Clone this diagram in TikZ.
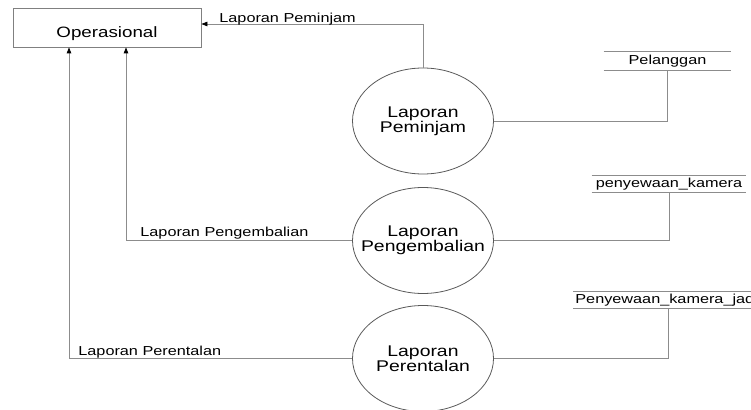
\documentclass[tikz,border=0pt]{standalone}
\usepackage{fontspec}
\setmainfont{Liberation Sans}[FakeStretch=1.25]
\usepackage{tikz}
\usetikzlibrary{
	arrows.meta,
	shapes.geometric
}
\tikzset{every path/.append style={line width=0.8pt}}
\tikzset{every path/.append style={>={Triangle[length=6pt,width=4.5pt,color=black]}}}
\tikzset{
	proc/.style={ellipse,draw=black!65,minimum width=141pt,minimum height=106pt,inner sep=-15pt,align=center,font=\fontsize{15.5}{15}\selectfont},
	entity/.style={rectangle,draw=black!50,minimum width=188pt,minimum height=39pt,inner sep=0pt,font=\fontsize{15}{18}\selectfont,text height=21pt,text depth=0pt},
	store/.style={inner sep=0pt,minimum height=16pt,font=\fontsize{13}{15}\selectfont,text height=9.5pt,text depth=2.5pt},
	storeline/.style={draw=black!45},
	flow/.style={draw=black!45,->},
	link/.style={draw=black!45},
	lbl/.style={anchor=base west,inner sep=0pt,font=\fontsize{13}{15}\selectfont}
}
\newcommand{\tikzStore}[4][]{\node (#3) at #2 [store,#1]{#4};
	\draw[storeline] (#3.north west) -- (#3.north east) (#3.south west) -- (#3.south east);}

\begin{document}
\begin{tikzpicture}[x=1pt,y=-1pt]
	\useasboundingbox (0,0) rectangle (751,409);
	\node (ops) at (107,27.5) [entity] {Operasional};
	\node (pem) at (423,121) [proc] {Laporan\\Peminjam};
	\node (pgb) at (423,240.5) [proc] {Laporan\\Pengembalian};
	\node (ren) at (423,358.5) [proc] {Laporan\\Perentalan};
	
	\tikzStore[minimum width=127pt,minimum height=18pt]{(667.5,61)}{pel}{Pelanggan}
	\tikzStore[minimum width=154pt]{(669,184)}{sew}{penyewaan\_kamera}
	\tikzStore[anchor=west,text width=190pt,align=left,inner xsep=2pt]{(573,300)}{jad}{Penyewaan\_kamera\_jadwal}
	
	\draw[flow] (pem.north) |- ([yshift=3.5pt]ops.east);
	\draw[flow] (pgb.west) -| ([xshift=19pt]ops.south);
	\draw[flow] (ren.west) -| ([xshift=-38pt]ops.south);
	
	\draw[link] (pem.east) -| (pel.south);
	\draw[link] (pgb.east) -| (sew.south);
	\draw[link] (ren.east) -| ([xshift=95pt]jad.south west);
	
	\node (lPem) at (219,22.5) [lbl] {Laporan Peminjam};
	\node (lPgb) at (140,236.5) [lbl] {Laporan Pengembalian};
	\node (lRen) at (78,355) [lbl] {Laporan Perentalan};
\end{tikzpicture}
\end{document}
